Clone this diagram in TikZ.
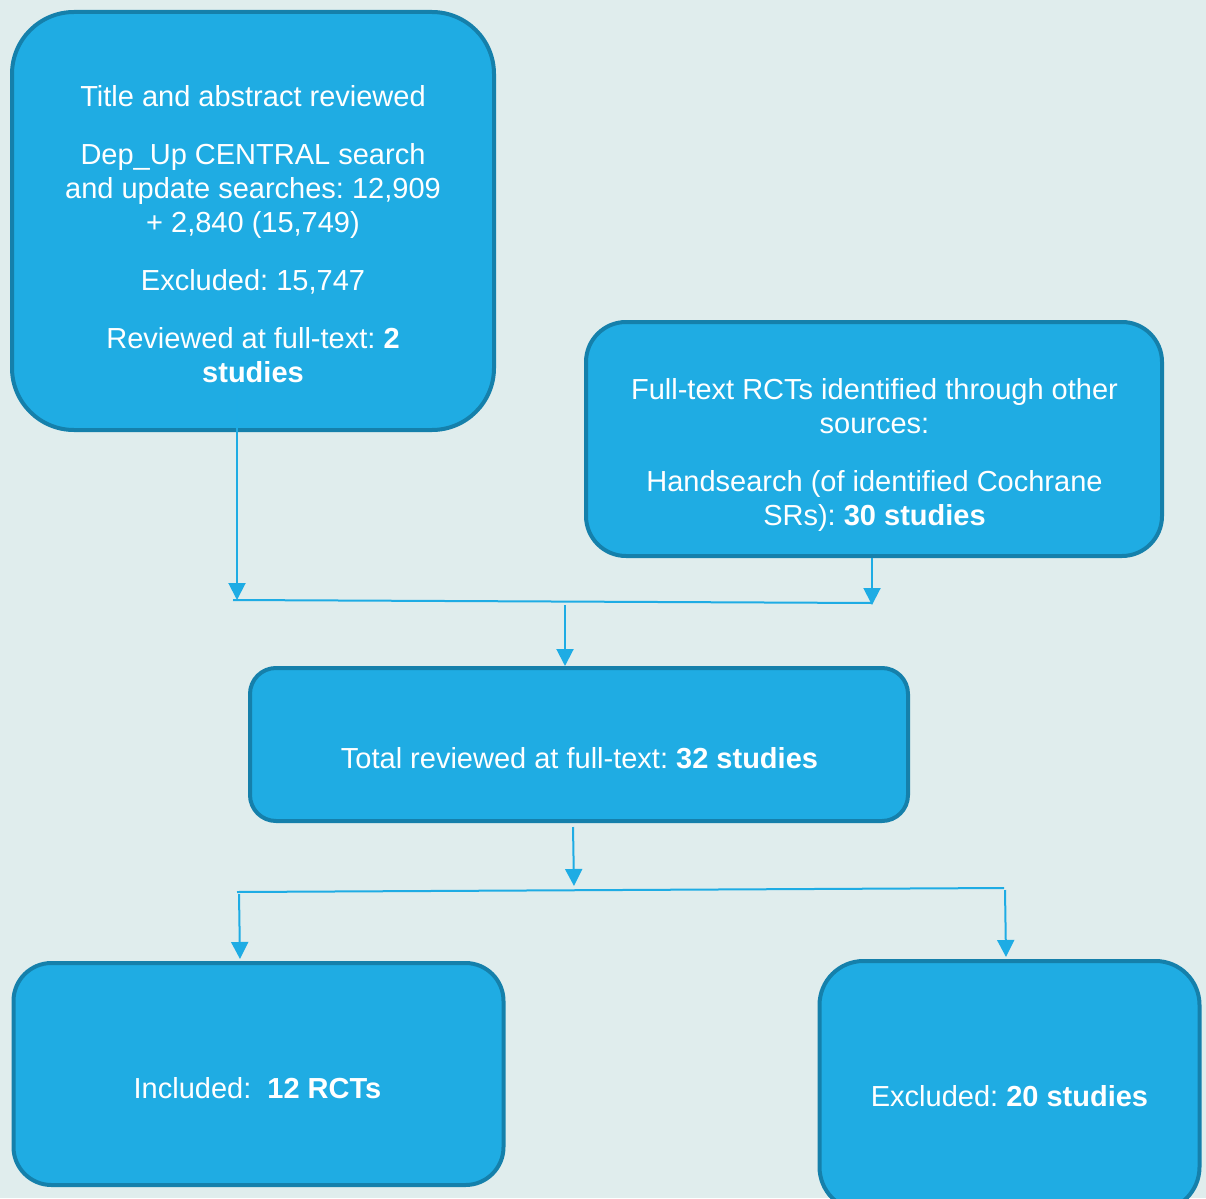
\documentclass[tikz,border=0pt]{standalone}
\usepackage{fontspec}
\setmainfont{Liberation Sans}
\usetikzlibrary{arrows.meta,calc}
\definecolor{bg}{RGB}{224,237,237}
\definecolor{boxfill}{RGB}{31,172,227}
\definecolor{boxline}{RGB}{21,128,171}
\definecolor{conncol}{RGB}{30,172,228}
\begin{document}
\frenchspacing
\begin{tikzpicture}[x=1pt,y=-1pt,
  box/.style={draw=boxline, fill=boxfill, line width=4pt, rectangle, inner sep=0pt},
  txt/.style={text=white, inner sep=0pt, align=center, font=\fontsize{29}{34}\selectfont},
  conn/.style={draw=conncol, line width=2pt, -{Triangle[length=17pt,width=17pt]}},
  plain/.style={draw=conncol, line width=2pt}]
\useasboundingbox (0,0) rectangle (1206,1198);
\fill[bg] (0,0) rectangle (1206,1198);
% boxes
\node[box, rounded corners=62pt, minimum width=482pt, minimum height=418pt] (b1) at (253,221) {};
\node[box, rounded corners=40pt, minimum width=576pt, minimum height=234pt] (b2) at (874,439) {};
\node[box, rounded corners=26pt, minimum width=658pt, minimum height=153pt] (b3) at (579,744.5) {};
\node[box, rounded corners=38pt, minimum width=490pt, minimum height=222pt] (b4) at (258.5,1074) {};
\node[box, rounded corners=44pt, minimum width=380pt, minimum height=250pt] (b5) at (1009.5,1086) {};
% texts
\node[txt, anchor=north] (t1) at (253,85) {Title and abstract reviewed\\[24pt]
Dep\_Up CENTRAL search\\ and update searches: 12,909\\ + 2,840 (15,749)\\[24pt]
Excluded: 15,747\\[24pt]
Reviewed at full-text: \textbf{2}\\ \textbf{studies}};
\node[txt, anchor=north] (t2) at (874.5,378) {Full-text RCTs identified through other\\ sources:\\[24pt]
Handsearch (of identified Cochrane\\ SRs): \textbf{30 studies}};
\node[txt, anchor=base] (t3) at (579.5,768) {Total reviewed at full-text: \textbf{32 studies}};
\node[txt, anchor=base] (t4) at (257.5,1098) {Included:~ \textbf{12 RCTs}};
\node[txt, anchor=base] (t5) at (1009.5,1106) {Excluded: \textbf{20 studies}};
% junction coordinates
\coordinate (j1l) at (237,600);
\coordinate (j1r) at (872,603);
\coordinate (j1m) at (565,605);
\coordinate (j2m) at (573,827);
\coordinate (j2l) at (237,892);
\coordinate (j2r) at (1004,888);
\coordinate (j2a) at (239,894);
\coordinate (j2b) at (1005,890);
% connectors
\draw[conn] ($(b1.south -| j1l)+(0,-42)$) -- (j1l);
\draw[conn] (b2.south -| j1r) -- ($(j1r)+(0,2)$);
\draw[plain] ($(j1l)+(-4,0)$) -- (j1r);
\draw[conn] (j1m) -- (j1m |- b3.north);
\draw[conn] (j2m) -- ($(j2m)+(1,59)$);
\draw[plain] (j2l) -- (j2r);
\draw[conn] (j2a) -- ($(j2a |- b4.north)+(1,-2)$);
\draw[conn] (j2b) -- ($(j2b |- b5.north)+(1,-2)$);
\end{tikzpicture}
\end{document}
